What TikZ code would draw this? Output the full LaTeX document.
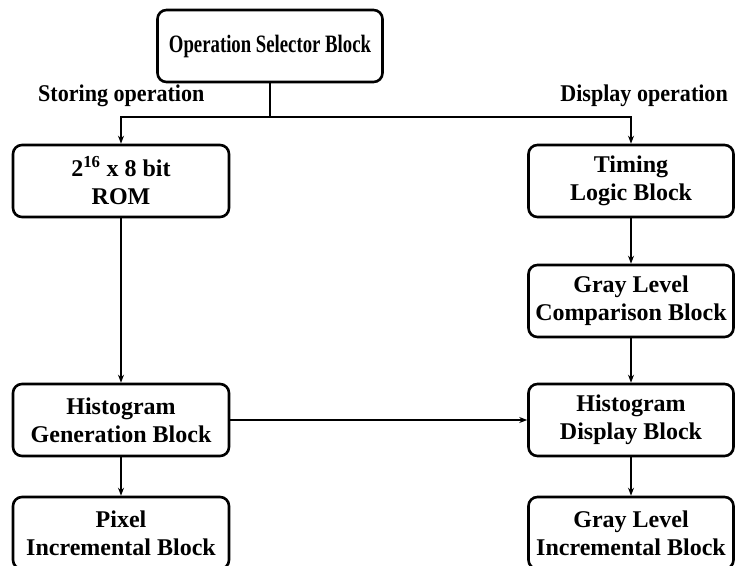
\documentclass[tikz,border=0pt]{standalone}
\usepackage{fontspec}
\setmainfont{Liberation Serif}
\newfontfamily\condfont[FakeStretch=0.75]{Liberation Serif}
\newfontfamily\lblfont[FakeStretch=0.92]{Liberation Serif}
\usetikzlibrary{arrows.meta}
\begin{document}
\begin{tikzpicture}[x=1pt,y=-1pt,
  blk/.style={draw,line width=2.6pt,rounded corners=9pt,minimum height=72pt,
    align=center,font=\fontsize{24}{28}\selectfont\bfseries,inner sep=2pt},
  lbl/.style={font=\fontsize{24}{28}\selectfont\bfseries\lblfont,inner sep=0pt},
  con/.style={line width=1.8pt},
  arr/.style={con,-{Stealth[length=8pt,width=6pt]}}]
\useasboundingbox (0,0) rectangle (735,565);
\node[blk,minimum width=225pt,font=\fontsize{25}{28}\selectfont\bfseries\condfont] (sel) at (270,46) {Operation Selector Block};
\node[lbl,anchor=west] (st) at (38,96) {Storing operation};
\node[lbl,anchor=east] (dp) at (728,96) {Display operation};
\node[blk,minimum width=216pt] (rom) at (121,181) {2\textsuperscript{16} x 8 bit\\ROM};
\node[blk,minimum width=205pt] (tim) at (631,181) {Timing\\Logic Block};
\node[blk,minimum width=205pt] (gcmp) at (631,301) {Gray Level\\Comparison Block};
\node[blk,minimum width=216pt] (hgen) at (121,420) {Histogram\\Generation Block};
\node[blk,minimum width=205pt] (hdisp) at (631,420) {Histogram\\Display Block};
\node[blk,minimum width=216pt] (pix) at (121,533) {Pixel\\Incremental Block};
\node[blk,minimum width=205pt] (ginc) at (631,533) {Gray Level\\Incremental Block};
\coordinate (j) at (270,117);
\draw[con] (sel.south) -- (j);
\draw[arr] (j) -| (rom.north);
\draw[arr] (j) -| (tim.north);
\draw[arr] (rom) -- (hgen);
\draw[arr] (tim) -- (gcmp);
\draw[arr] (gcmp) -- (hdisp);
\draw[arr] (hgen) -- (hdisp);
\draw[arr] (hgen) -- (pix);
\draw[arr] (hdisp) -- (ginc);
\end{tikzpicture}
\end{document}
